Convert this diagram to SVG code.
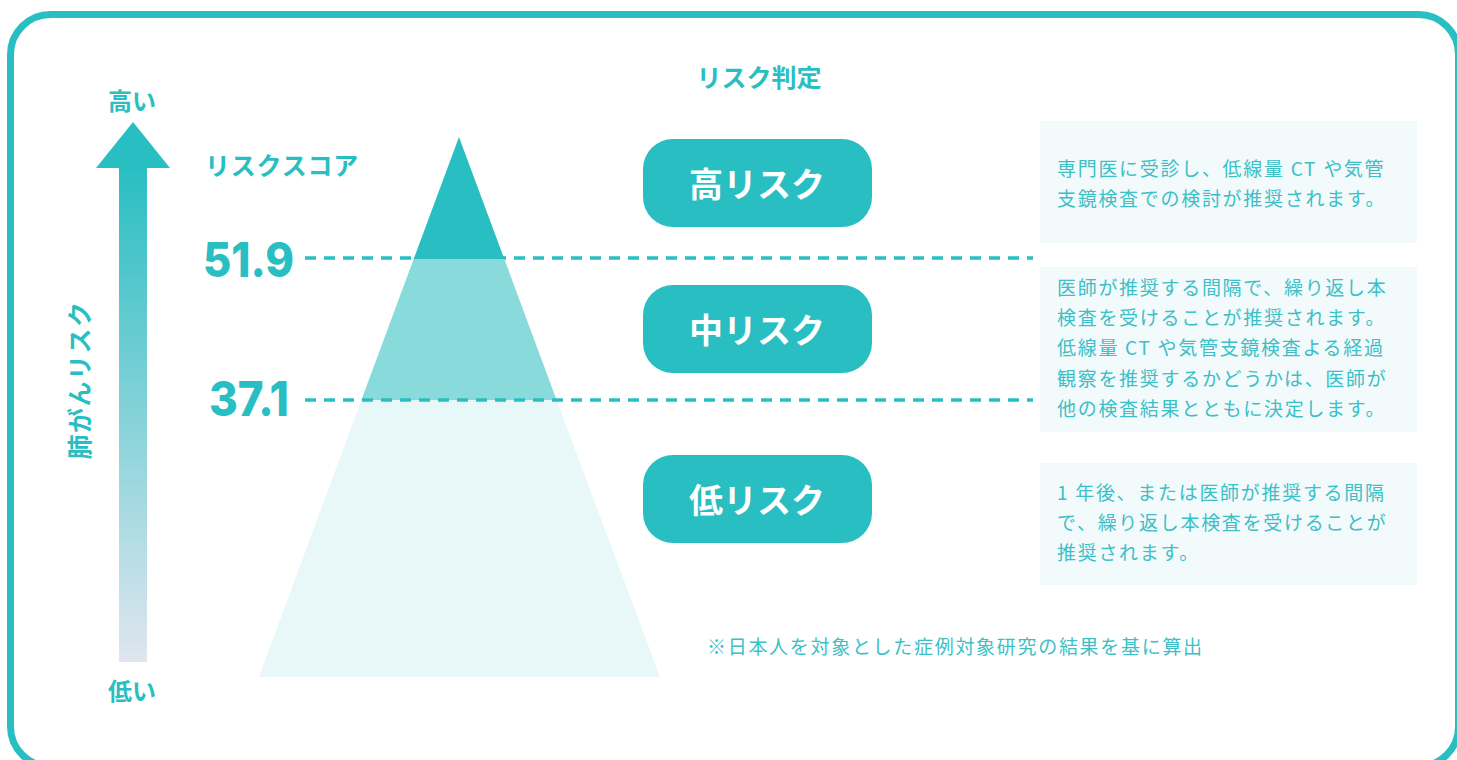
<svg xmlns="http://www.w3.org/2000/svg" width="1457" height="760" viewBox="0 0 1457 760">
<defs>
<linearGradient id="shaft" x1="0" y1="0" x2="0" y2="1">
<stop offset="0" stop-color="#29BEC2"/>
<stop offset="1" stop-color="#E0E6EF"/>
</linearGradient>
<style>
.t{fill:#29BEC2;font-family:"Noto Sans CJK JP","Noto Sans",sans-serif;font-weight:700}
.num{fill:#29BEC2;font-family:Inter,"Liberation Sans",sans-serif;font-weight:800;font-size:48px}
.pill{fill:#29BEC2}
.pt{fill:#FFFFFF;font-family:"Noto Sans CJK JP",sans-serif;font-weight:700;font-size:34px;text-anchor:middle}
.box{fill:#F2FAFC}
.bt{fill:#3CBFC6;font-family:"Noto Sans CJK JP","Noto Sans",sans-serif;font-weight:400;font-size:19px;letter-spacing:1.7px}
.dash{stroke:#29BEC2;stroke-width:3.5;stroke-dasharray:11 8;fill:none}
</style>
</defs>
<rect x="10.5" y="14.5" width="1448" height="752" rx="40" fill="#FFFFFF" stroke="#29BEC2" stroke-width="7"/>

<g id="axis">
<text class="t" x="132" y="110" font-size="24" text-anchor="middle">高い</text>
<polygon points="133,122 170,168 96,168" fill="#29BEC2"/>
<rect x="119" y="167" width="28" height="495" fill="url(#shaft)"/>
<text class="t" x="132" y="700" font-size="24" text-anchor="middle">低い</text>
<text class="t" font-size="25" letter-spacing="1.5" text-anchor="middle" transform="translate(89,380) rotate(-90)">肺がんリスク</text>
</g>

<g id="score-title">
<text class="t" x="205" y="175" font-size="25" letter-spacing="0.8">リスクスコア</text>
</g>

<g id="connectors">
<line class="dash" x1="305" y1="258" x2="1033" y2="258"/>
</g>

<g id="pyramid">
<polygon points="459,137 504.3,259 413.7,259" fill="#29BEC2"/>
<polygon points="413.7,259 504.3,259 556.6,400 361.4,400" fill="#88DADB"/>
<polygon points="361.4,400 556.6,400 660,677 259,677" fill="#E8F7F7"/>
</g>

<g id="connectors2">
<line class="dash" x1="305" y1="400" x2="1033" y2="400"/>
</g>

<g id="score-519">
<text class="num" x="294" y="277" text-anchor="end" textLength="91" lengthAdjust="spacingAndGlyphs">51.9</text>
</g>
<g id="score-371">
<text class="num" x="289" y="416" text-anchor="end" textLength="80" lengthAdjust="spacingAndGlyphs">37.1</text>
</g>

<g id="judge-title">
<text class="t" x="759" y="87" font-size="25" text-anchor="middle">リスク判定</text>
</g>

<g id="high">
<rect class="pill" x="643" y="139" width="229" height="88" rx="30"/>
<text class="pt" x="757" y="197">高リスク</text>
</g>
<g id="mid">
<rect class="pill" x="643" y="285" width="229" height="88" rx="30"/>
<text class="pt" x="757" y="343">中リスク</text>
</g>
<g id="low">
<rect class="pill" x="643" y="455" width="229" height="88" rx="30"/>
<text class="pt" x="757" y="513">低リスク</text>
</g>

<g id="desc-high">
<rect class="box" x="1040" y="121" width="377" height="122"/>
<text class="bt" x="1057" y="176">専門医に受診し、低線量 CT や気管</text>
<text class="bt" x="1057" y="206">支鏡検査での検討が推奨されます。</text>
</g>
<g id="desc-mid">
<rect class="box" x="1040" y="267" width="377" height="165"/>
<text class="bt" x="1057" y="295">医師が推奨する間隔で、繰り返し本</text>
<text class="bt" x="1057" y="325">検査を受けることが推奨されます。</text>
<text class="bt" x="1057" y="355">低線量 CT や気管支鏡検査よる経過</text>
<text class="bt" x="1057" y="386">観察を推奨するかどうかは、医師が</text>
<text class="bt" x="1057" y="416">他の検査結果とともに決定します。</text>
</g>
<g id="desc-low">
<rect class="box" x="1040" y="463" width="377" height="122"/>
<text class="bt" x="1057" y="500">1 年後、または医師が推奨する間隔</text>
<text class="bt" x="1057" y="530">で、繰り返し本検査を受けることが</text>
<text class="bt" x="1057" y="560">推奨されます。</text>
</g>

<g id="note">
<text class="bt" x="707" y="654" font-size="18.5" letter-spacing="0.8">※日本人を対象とした症例対象研究の結果を基に算出</text>
</g>
</svg>
